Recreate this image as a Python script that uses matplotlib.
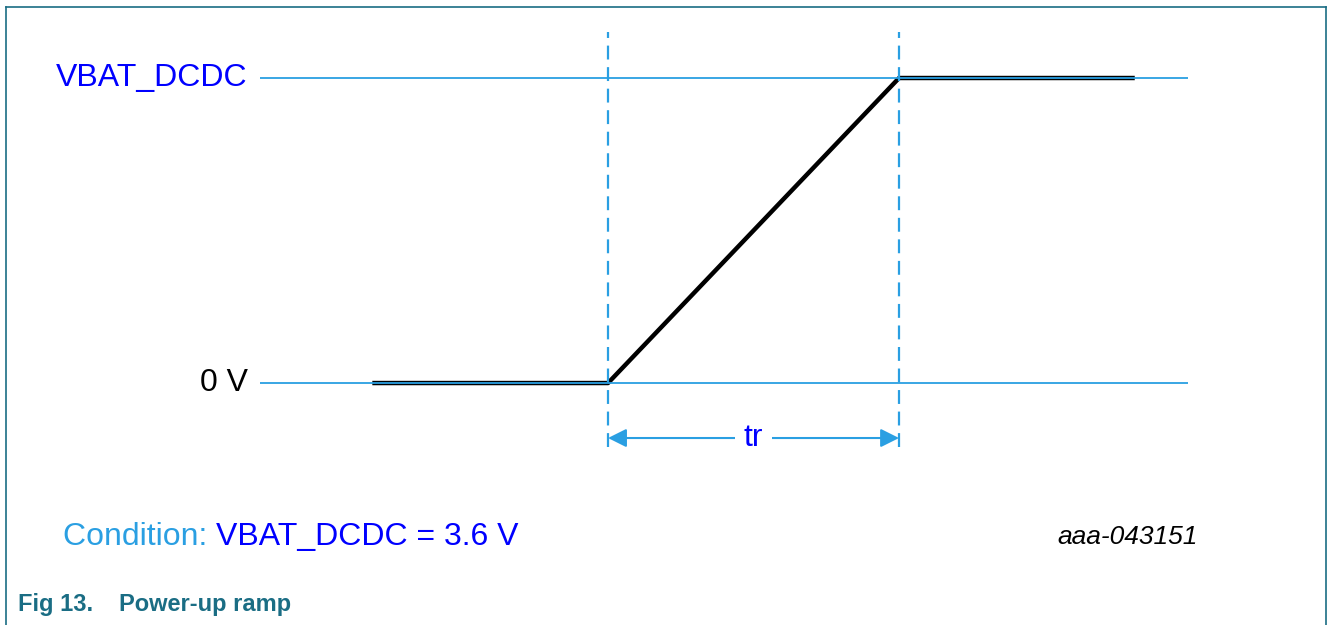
import matplotlib
matplotlib.use("Agg")
import matplotlib.pyplot as plt
from matplotlib.lines import Line2D

plt.rcParams['font.family'] = ['Liberation Sans', 'DejaVu Sans']
plt.rcParams['lines.scale_dashes'] = False

# signal: time in units of tr, voltage in V
sig_t = [-0.81, 0.0, 1.0, 1.81]
sig_v = [0.0, 0.0, 3.6, 3.6]
levels = [0.0, 3.6]
level_labels = ['0 V', 'VBAT_DCDC']
level_colors = ['black', '#0000ff']
markers_t = [0.0, 1.0]

LIGHT = '#2a9fe2'
BLUE = '#0000ff'
TEAL = '#1a6d84'

W, H = 1327, 625
fig = plt.figure(figsize=(W / 100, H / 100), dpi=100)

# axes from x=260..1188 px, y=32..447 px
ax = fig.add_axes([260 / W, (H - 447) / H, (1188 - 260) / W, (447 - 32) / H])
ax.set_xlim(-1.196, 1.993)
ax.set_ylim(-0.755, 4.143)
ax.axis('off')

# black signal
ax.plot(sig_t, sig_v, color='black', lw=3.2, solid_capstyle='butt', zorder=2)

# reference levels
for v, lab, c in zip(levels, level_labels, level_colors):
    ax.axhline(v, color=LIGHT, lw=1.3, zorder=3)
    ax.annotate(lab, xy=(-1.196, v), xytext=(-9, 0), textcoords='offset points',
                ha='right', va='center', fontsize=23, color=c)

# dashed markers
for t in markers_t:
    ax.axvline(t, color=LIGHT, lw=1.6, dashes=(10, 5.5), zorder=3)

# tr arrow
y_arr = -0.649
ax.annotate('', xy=(markers_t[0], y_arr), xytext=(markers_t[1], y_arr),
            arrowprops=dict(arrowstyle='<|-|>', color=LIGHT, lw=1.5,
                            mutation_scale=28, shrinkA=0, shrinkB=0))
ax.text(0.5 * (markers_t[0] + markers_t[1]), y_arr, 'tr', ha='center', va='center',
        fontsize=23, color=BLUE, zorder=5,
        bbox=dict(facecolor='white', edgecolor='none', pad=6))

# condition text
t1 = fig.text(63 / W, 1 - 537 / H, 'Condition: ', fontsize=23, color=LIGHT,
              ha='left', va='center')
fig.canvas.draw()
bb = t1.get_window_extent()
fig.text(bb.x1 / W, 1 - 537 / H, 'VBAT_DCDC = 3.6 V', fontsize=23, color=BLUE,
         ha='left', va='center')

fig.text(1198 / W, 1 - 537 / H, 'aaa-043151', fontsize=19, style='italic',
         color='black', ha='right', va='center')

# caption
fig.text(18 / W, 1 - 605 / H, 'Fig 13.', fontsize=17, fontweight='bold',
         color=TEAL, ha='left', va='center')
fig.text(119 / W, 1 - 605 / H, 'Power-up ramp', fontsize=17, fontweight='bold',
         color=TEAL, ha='left', va='center')

# frame (no bottom edge)
xl, xr, yt = 5.5 / W, 1325.5 / W, 1 - 7 / H
for xs, ys in [([xl, xl], [0, yt]), ([xl, xr], [yt, yt]), ([xr, xr], [yt, 0])]:
    fig.add_artist(Line2D(xs, ys, color=TEAL, lw=1.2, transform=fig.transFigure))

fig.savefig('out.png', dpi=100)
